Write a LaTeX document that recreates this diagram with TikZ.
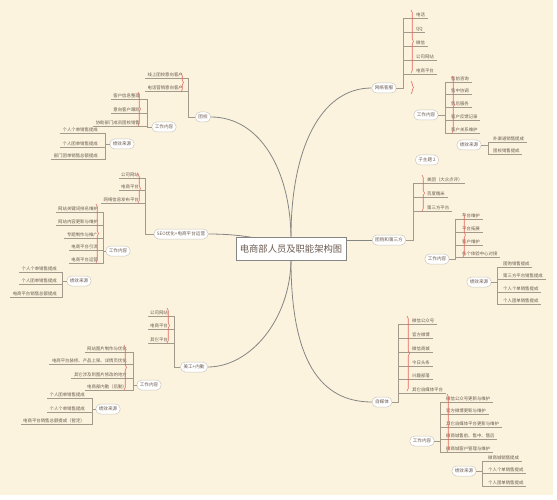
\documentclass[tikz,border=0pt]{standalone}
\usepackage{fontspec}
\setmainfont{Noto Sans CJK SC}
\usetikzlibrary{decorations.pathreplacing, shadows}

\definecolor{paper}{HTML}{FBF3DD}
\definecolor{ink}{HTML}{6B5B50}
\definecolor{twiggrey}{HTML}{A39A8C}
\definecolor{boughgrey}{HTML}{858585}
\definecolor{bracered}{HTML}{E5675F}
\definecolor{rimgrey}{HTML}{CBC7C0}

\newcommand{\leaffont}{\fontsize{4.4}{5}\selectfont}
\newcommand{\topicfont}{\fontsize{4.6}{5.5}\selectfont}
\newcommand{\hubfont}{\fontsize{9.3}{11}\selectfont}

\pgfdeclarelayer{bg}
\pgfsetlayers{bg,main}

\newcommand{\rightleaves}[4]{%
  \foreach \leafy/\leaftext [count=\leafno] in {#4} {%
    \node[leaf, anchor=base west] (#1-\leafno) at (#3-2.5, \leafy-1.6) {\leaftext};
    \draw[twig] (#1.east) -| (#2,\leafy) -- (#1-\leafno.east |- #2,\leafy);
  }}
\newcommand{\leftleaves}[4]{%
  \foreach \leafy/\leaftext [count=\leafno] in {#4} {%
    \node[leaf, anchor=base east] (#1-\leafno) at (#3+2.5, \leafy-1.6) {\leaftext};
    \draw[twig] (#1.west) -| (#2,\leafy) -- (#1-\leafno.west |- #2,\leafy);
  }}

\begin{document}
\begin{tikzpicture}[
  x=1pt, y=-1pt,
  hubbox/.style={draw=boughgrey, fill=white, line width=0.8pt, minimum width=110pt,
    minimum height=23pt, inner sep=0pt, font=\hubfont, text=ink,
    drop shadow={shadow xshift=0.7pt, shadow yshift=-0.7pt, opacity=0.35}},
  topic/.style={draw=rimgrey, fill=white, line width=0.5pt, rounded corners=4.8pt,
    minimum height=10pt, inner xsep=3pt, inner ysep=0pt, font=\topicfont, text=ink},
  leaf/.style={inner xsep=2.5pt, inner ysep=0pt, font=\leaffont, text=ink},
  twig/.style={draw=twiggrey, line width=0.55pt},
  bough/.style={draw=boughgrey, line width=0.8pt},
  summary/.style={draw=bracered, line width=0.6pt, decorate,
    decoration={brace, amplitude=2.5pt}}
]
\useasboundingbox (0,0) rectangle (557,500);
\begin{pgfonlayer}{bg}
  \fill[white] (0,0) rectangle (557,500);
  \fill[paper] (0,0) rectangle (553,495);
\end{pgfonlayer}

\node[hubbox] (hub) at (291,248.5) {电商部人员及职能架构图};

\node[topic] (tx) at (203,117) {团校};
\node[topic] (txwork) at (164,127) {工作内容};
\node[topic] (txpay) at (122,144) {绩效来源};
\node[topic] (seo) at (181,234) {SEO优化+电商平台运营};
\node[topic] (seowork) at (118,251) {工作内容};
\node[topic] (seopay) at (79,281) {绩效来源};
\node[topic] (mg) at (194,367) {美工+内勤};
\node[topic] (mgwork) at (149,385) {工作内容};
\node[topic] (mgpay) at (108,409) {绩效来源};
\node[topic] (kf) at (384,88) {网络客服};
\node[topic] (kfwork) at (426,115) {工作内容};
\node[topic] (kfpay) at (469,145) {绩效来源};
\node[topic] (sub) at (427,160) {子主题 2};
\node[topic] (tg) at (389,240) {团购和第三方};
\node[topic] (tgwork) at (437,259) {工作内容};
\node[topic] (tgpay) at (479,282) {绩效来源};
\node[topic] (zmt) at (382,402) {自媒体};
\node[topic] (zmtwork) at (422,441) {工作内容};
\node[topic] (zmtpay) at (464,471) {绩效来源};

\begin{pgfonlayer}{bg}
  \draw[bough] (hub.north) .. controls (290,170) and (260,117) .. (tx.east);
  \draw[bough] (hub.north) .. controls (291,150) and (320,88) .. (kf.west);
  \draw[bough] (hub.center) .. controls (270,240) and (245,234) .. (seo.east);
  \draw[bough] (tg.west -| hub.east) -- (tg.west);
  \draw[bough] (hub.south) .. controls (290,320) and (250,367) .. (mg.east);
  \draw[bough] (hub.south) .. controls (291,360) and (320,402) .. (zmt.west);
\end{pgfonlayer}

\leftleaves{tx}{188}{183}{78/线上团校意向客户, 91/电话营销意向客户}
\leftleaves{txwork}{147}{140}{99/客户信息整理, 113/意向客户跟踪, 126/协助部门成员团校销售}
\leftleaves{txpay}{105}{98}{133/个人个单销售提成, 147/个人团单销售提成, 159/部门团单销售总额提成}
\leftleaves{seo}{145}{139}{178/公司网站, 190/电商平台, 203/网络信息发布平台}
\leftleaves{seowork}{103}{98}{212/网站关键词排名维护, 225/网站内容更新与维护, 238/专题制作与推广, 250/电商平台引流, 263/电商平台运营}
\leftleaves{seopay}{62}{57}{272/个人个单销售提成, 284/个人团单销售提成, 297/电商平台销售总额提成}
\leftleaves{mg}{174}{168}{316/公司网站, 329/电商平台, 343/其它平台}
\leftleaves{mgwork}{133}{127}{352/网站图片制作与优化, 364/电商平台装修、产品上架、详情页优化, 378/其它涉及到图片修改的地方, 390/电商部内勤（后勤）}
\leftleaves{mgpay}{92}{85}{398/个人团单销售提成, 412/个人个单销售提成, 424/电商平台销售总额提成（暂定）}

\rightleaves{kf}{403}{416}{18/电话, 32/QQ, 46/微信, 60/公司网站, 74/电商平台}
\rightleaves{kfwork}{445}{451}{82/售前咨询, 94/售中协调, 107/售后服务, 120/客户反馈记录, 133/客户关系维护}
\rightleaves{kfpay}{488}{493}{142/外渠道销售提成, 154/团校销售提成}
\rightleaves{tg}{413}{427}{183/美团（大众点评）, 197/百度糯米, 211/第三方平台}
\rightleaves{tgwork}{455}{462}{219/平台维护, 232/平台拓展, 245/客户维护, 257/各个体验中心对接}
\rightleaves{tgpay}{497}{503}{267/团购销售提成, 279/第三方平台销售提成, 292/个人个单销售提成, 304/个人团单销售提成}
\rightleaves{zmt}{398}{412}{324/微信公众号, 338/官方微博, 352/微信商城, 366/今日头条, 379/兴趣部落, 393/其它自媒体平台}
\rightleaves{zmtwork}{440}{446}{402/微信公众号更新与维护, 414/官方微博更新与维护, 427/其它自媒体平台更新与维护, 439/微商城售前、售中、售后, 452/微商城客户管理与维护}
\rightleaves{zmtpay}{482}{488}{461/微商城销售提成, 473/个人个单销售提成, 486/个人团单销售提成}

\draw[summary] (181,73) -- (181,92);
\draw[summary] (138,92) -- (138,126);
\draw[summary] (138,174) -- (138,203);
\draw[summary] (96,204) -- (96,263);
\draw[summary] (167,308) -- (167,343);
\draw[summary] (124,345) -- (124,390);
\draw[summary] (411,10) -- (411,73);
\draw[summary] (411,81) -- (411,94);
\draw[summary] (452,76) -- (452,133);
\draw[summary] (422,175) -- (422,211);
\draw[summary] (463,213) -- (463,257);
\draw[summary] (407,316) -- (407,391);
\draw[summary] (447,394) -- (447,452);
\end{tikzpicture}
\end{document}
